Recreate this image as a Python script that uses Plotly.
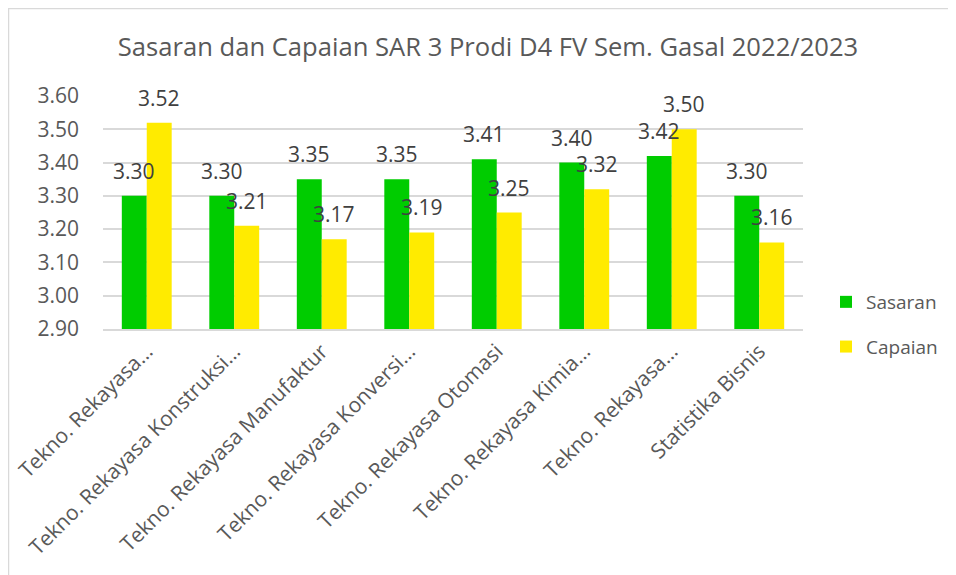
import plotly.graph_objects as go

title_text = "Sasaran dan Capaian SAR 3 Prodi D4 FV Sem. Gasal 2022/2023"
categories = [
    "Tekno. Rekayasa…",
    "Tekno. Rekayasa Konstruksi…",
    "Tekno. Rekayasa Manufaktur",
    "Tekno. Rekayasa Konversi…",
    "Tekno. Rekayasa Otomasi",
    "Tekno. Rekayasa Kimia…",
    "Tekno. Rekayasa…",
    "Statistika Bisnis",
]
sasaran = [3.30, 3.30, 3.35, 3.35, 3.41, 3.40, 3.42, 3.30]
capaian = [3.52, 3.21, 3.17, 3.19, 3.25, 3.32, 3.50, 3.16]
y_ticks = [2.90, 3.00, 3.10, 3.20, 3.30, 3.40, 3.50, 3.60]

GREEN = "#00CC00"
YELLOW = "#FFEB00"
FONT = "Open Sans"
bargap = 0.43

xs = list(range(len(categories)))

fig = go.Figure()
fig.add_trace(go.Bar(x=xs, y=sasaran, name="Sasaran", marker_color=GREEN,
                     marker_line_width=0, legendgroup="a"))
fig.add_trace(go.Bar(x=xs, y=capaian, name="Capaian", marker_color=YELLOW,
                     marker_line_width=0, legendgroup="b"))

bw = (1 - bargap) / 2
annotations = []
for i in xs:
    for val, off in ((sasaran[i], -bw / 2), (capaian[i], bw / 2)):
        annotations.append(dict(
            x=i + off, y=val, xref="x", yref="y", text=f"{val:.2f}",
            showarrow=False, yanchor="middle", yshift=25,
            font=dict(family=FONT, size=21, color="#404040"),
        ))

# page body has an 8px margin; work in page pixels and convert
OFF = 8
W, H = 956 - OFF, 575 - OFF
L, R, T, B = 103 - OFF, 956 - 803, 96 - OFF, 575 - 329
pw, ph = W - L - R, H - T - B
def px_x(p):
    return (p - OFF - L) / pw
def px_y(p):
    return (H - B - (p - OFF)) / ph

shapes = [
    dict(type="line", xref="paper", yref="paper", x0=px_x(8.5), x1=px_x(8.5),
         y0=px_y(7.5), y1=px_y(590), line=dict(color="#D9D9D9", width=1.5)),
    dict(type="line", xref="paper", yref="paper", x0=px_x(8), x1=px_x(970),
         y0=px_y(8.5), y1=px_y(8.5), line=dict(color="#D9D9D9", width=1.5)),
]

fig.update_layout(
    width=W, height=H,
    margin=dict(l=L, r=R, t=T, b=B, autoexpand=False),
    paper_bgcolor="white", plot_bgcolor="white",
    title=dict(text=title_text, x=(488 - OFF) / W, xanchor="center",
               y=1 - (47 - OFF) / H, yanchor="middle",
               font=dict(family=FONT, size=25.6, color="#595959")),
    barmode="group", bargap=bargap, bargroupgap=0,
    xaxis=dict(tickmode="array", tickvals=xs, ticktext=categories, tickangle=-45,
               range=[-0.5, len(xs) - 0.5], showgrid=False, showline=True,
               linecolor="#D9D9D9", linewidth=1.5, ticks="",
               tickfont=dict(family=FONT, size=21, color="#595959")),
    yaxis=dict(range=[2.90, 3.60], tickmode="array", tickvals=y_ticks,
               ticktext=[f"{v:.2f}" for v in y_ticks], showgrid=True,
               gridcolor="#D9D9D9", gridwidth=1.5, zeroline=False, ticks="",
               ticklabelstandoff=23,
               tickfont=dict(family=FONT, size=21, color="#595959")),
    legend=dict(x=px_x(826), y=px_y(283), xanchor="left", yanchor="top",
                tracegroupgap=17, itemwidth=30,
                font=dict(family=FONT, size=19, color="#595959"),
                bgcolor="rgba(0,0,0,0)"),
    annotations=annotations,
    shapes=shapes,
    showlegend=True,
)

fig.write_html("out.html")
